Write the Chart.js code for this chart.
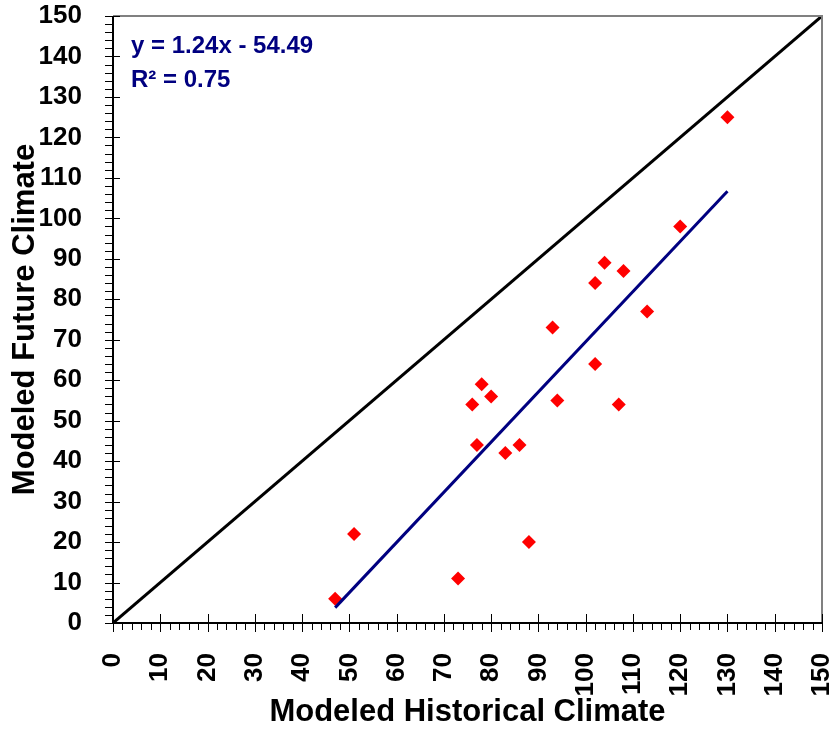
<!DOCTYPE html>
<html>
<head>
<meta charset="utf-8">
<script src="https://cdn.jsdelivr.net/npm/chart.js@4.4.1/dist/chart.umd.min.js"></script>
<style>
  html, body { margin: 0; padding: 0; background: #ffffff; }
  #wrap { width: 833px; height: 731px; position: relative; }
</style>
</head>
<body>
<div id="wrap"><canvas id="c" width="833" height="731"></canvas></div>
<script>
// ---- data ----
const historicalX = [47, 51, 73, 76, 77, 78, 80, 83, 86, 88, 93, 94, 102, 102, 104, 107, 108, 113, 120, 130];
const futureY     = [6, 22, 11, 54, 44, 59, 56, 42, 44, 20, 73, 55, 84, 64, 89, 54, 87, 77, 98, 125];
const trendX = [47, 130];
const trendY = [3.8, 106.7];
const identityX = [0, 150];
const identityY = [0, 150];
const axisTicks = [0, 10, 20, 30, 40, 50, 60, 70, 80, 90, 100, 110, 120, 130, 140, 150];
const equationLines = ['y = 1.24x - 54.49', 'R\u00B2 = 0.75'];
const xTitle = 'Modeled Historical Climate';
const yTitle = 'Modeled Future Climate';

const toPts = (xs, ys) => xs.map((x, i) => ({ x: x, y: ys[i] }));

const FONT = "'Liberation Sans', Arial, sans-serif";

function zeroPad(scale) {
  scale.paddingLeft = 0; scale.paddingRight = 0;
  scale.paddingTop = 0; scale.paddingBottom = 0;
}

const decorPlugin = {
  id: 'decor',
  afterDraw(chart) {
    const ctx = chart.ctx;
    const xs = chart.scales.x, ys = chart.scales.y;
    const ca = chart.chartArea;
    ctx.save();
    // top and right frame (gray)
    ctx.strokeStyle = '#808080';
    ctx.lineWidth = 2;
    ctx.beginPath();
    ctx.moveTo(ca.left, ca.top);
    ctx.lineTo(ca.right, ca.top);
    ctx.lineTo(ca.right, ca.bottom);
    ctx.stroke();
    // axis lines
    ctx.strokeStyle = '#000000';
    ctx.lineWidth = 2;
    ctx.beginPath();
    ctx.moveTo(ca.left, ca.top);
    ctx.lineTo(ca.left, ca.bottom);
    ctx.lineTo(ca.right, ca.bottom);
    ctx.stroke();
    // ticks
    ctx.lineWidth = 1;
    ctx.strokeStyle = '#000000';
    ctx.beginPath();
    for (let v = 0; v <= 150; v += 2) {
      const major = v % 10 === 0;
      const py = Math.round(ys.getPixelForValue(v)) + 0.5;
      ctx.moveTo(ca.left - 8, py);
      ctx.lineTo(major ? ca.left + 7 : ca.left, py);
      const px = Math.round(xs.getPixelForValue(v)) + 0.5;
      ctx.moveTo(px, major ? ca.bottom - 9 : ca.bottom);
      ctx.lineTo(px, major ? ca.bottom + 9 : ca.bottom + 7);
    }
    ctx.stroke();
    // equation text
    ctx.fillStyle = '#000080';
    ctx.font = "bold 24px " + FONT;
    ctx.textAlign = 'left';
    ctx.textBaseline = 'alphabetic';
    ctx.fillText(equationLines[0], 131, 53);
    ctx.fillText(equationLines[1], 131, 87);
    ctx.restore();
  }
};

new Chart(document.getElementById('c'), {
  type: 'scatter',
  data: {
    datasets: [
      {
        type: 'line',
        label: 'Trend',
        data: toPts(trendX, trendY),
        borderColor: '#000080',
        borderWidth: 3,
        pointRadius: 0,
        fill: false,
        order: 0
      },
      {
        type: 'line',
        label: '1:1',
        data: toPts(identityX, identityY),
        borderColor: '#000000',
        borderWidth: 3,
        pointRadius: 0,
        fill: false,
        order: 1
      },
      {
        label: 'Points',
        data: toPts(historicalX, futureY),
        pointStyle: 'rectRot',
        pointRadius: 7,
        pointHoverRadius: 7,
        backgroundColor: '#ff0000',
        borderColor: '#ff0000',
        borderWidth: 0,
        order: 2
      }
    ]
  },
  options: {
    responsive: false,
    animation: false,
    devicePixelRatio: 1,
    layout: { padding: { top: 16, right: 11, left: 0, bottom: 0 } },
    plugins: {
      legend: { display: false },
      tooltip: { enabled: false }
    },
    scales: {
      x: {
        type: 'linear',
        min: 0, max: 150,
        afterFit(scale) { scale.height = 108; zeroPad(scale); },
        afterBuildTicks(scale) { scale.ticks = axisTicks.map(v => ({ value: v })); },
        grid: { display: false },
        border: { display: false },
        ticks: {
          autoSkip: false,
          maxRotation: 90, minRotation: 90,
          padding: 22,
          color: '#000000',
          font: { family: FONT, size: 26, weight: 'bold' }
        },
        title: {
          display: true,
          text: xTitle,
          color: '#000000',
          padding: { top: 0, bottom: 0 },
          font: { family: FONT, size: 31, weight: 'bold' }
        }
      },
      y: {
        type: 'linear',
        min: 0, max: 150,
        afterFit(scale) { scale.width = 113; zeroPad(scale); },
        afterBuildTicks(scale) { scale.ticks = axisTicks.map(v => ({ value: v })); },
        grid: { display: false },
        border: { display: false },
        ticks: {
          autoSkip: false,
          padding: 23,
          color: '#000000',
          font: { family: FONT, size: 26, weight: 'bold' }
        },
        title: {
          display: true,
          text: yTitle,
          color: '#000000',
          padding: { top: 7, bottom: 0 },
          font: { family: FONT, size: 31, weight: 'bold' }
        }
      }
    }
  },
  plugins: [decorPlugin]
});
</script>
</body>
</html>
